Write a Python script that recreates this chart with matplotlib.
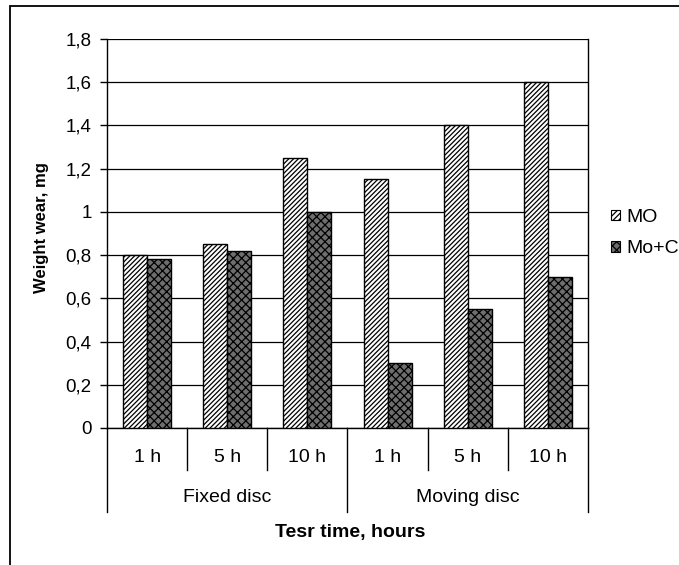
import matplotlib
matplotlib.use("Agg")
import matplotlib.pyplot as plt
from matplotlib.patches import Rectangle, Patch
from matplotlib.transforms import blended_transform_factory
import numpy as np

plt.rcParams['font.family'] = ['Liberation Sans', 'DejaVu Sans']
plt.rcParams['hatch.linewidth'] = 0.9

hours = ["1 h", "5 h", "10 h", "1 h", "5 h", "10 h"]
groups = ["Fixed disc", "Moving disc"]
mo = [0.80, 0.85, 1.25, 1.15, 1.40, 1.60]
mo_c = [0.78, 0.82, 1.00, 0.30, 0.55, 0.70]
yticks = [0, 0.2, 0.4, 0.6, 0.8, 1.0, 1.2, 1.4, 1.6, 1.8]
ytick_labels = ["0", "0,2", "0,4", "0,6", "0,8", "1", "1,2", "1,4", "1,6", "1,8"]

W, H = 679, 565
fig = plt.figure(figsize=(W / 100, H / 100), dpi=100)

# outer chart border
fig.add_artist(Rectangle((10 / W, -0.05), 1.2, 1 - 6 / H + 0.05,
                         transform=fig.transFigure, fill=False,
                         edgecolor='black', linewidth=1.3))

ax = fig.add_axes([107 / W, 137 / H, (588 - 107) / W, (428 - 39) / H])
x = np.arange(len(hours))
bw = 0.3
ax.bar(x - bw / 2, mo, bw, facecolor='white', edgecolor='black',
       hatch='///////', linewidth=1.0, zorder=3, label='MO')
ax.bar(x + bw / 2, mo_c, bw, facecolor='#6e6e6e', edgecolor='black',
       hatch='xxxx', linewidth=1.0, zorder=3, label='Mo+C')

ax.set_xlim(-0.5, len(hours) - 0.5)
ax.set_ylim(0, 1.8)
ax.set_yticks(yticks)
ax.set_yticklabels(ytick_labels, fontsize=13.5)
ax.yaxis.grid(True, color='black', linewidth=0.9)
ax.set_axisbelow(True)
ax.tick_params(axis='y', direction='out', length=5, width=1, pad=6)
ax.set_xticks([])
ax.spines['top'].set_visible(False)
for s in ['left', 'right', 'bottom']:
    ax.spines[s].set_linewidth(1.0)

# category axis with two levels
trans = blended_transform_factory(ax.transData, ax.transAxes)
ah = (428 - 39)
for i in range(len(hours) + 1):
    xb = i - 0.5
    depth = 84 if i % 3 == 0 else 42
    ax.plot([xb, xb], [0, -depth / ah], transform=trans, color='black',
            linewidth=1.0, clip_on=False)
for i, lab in enumerate(hours):
    ax.text(i, -30 / ah, lab, transform=trans, ha='center', va='center',
            fontsize=14)
for g, lab in enumerate(groups):
    ax.text(g * 3 + 1, -70 / ah, lab, transform=trans, ha='center',
            va='center', fontsize=14)

fig.text(350 / W, 1 - 532 / H, "Tesr time, hours", ha='center', va='center',
         fontsize=14, fontweight='bold')
fig.text(42 / W, 1 - 228 / H, "Weight wear, mg", ha='center', va='center',
         rotation=90, fontsize=12, fontweight='bold')

handles = [Patch(facecolor='white', edgecolor='black', hatch='//////', linewidth=0.8),
           Patch(facecolor='#6e6e6e', edgecolor='black', hatch='xxxx', linewidth=0.8)]
fig.legend(handles, ['MO', 'Mo+C'], loc='center left',
           bbox_to_anchor=(611 / W, 1 - 233 / H), frameon=False, fontsize=14,
           handlelength=0.45, handleheight=0.45, handletextpad=0.35,
           labelspacing=0.75, borderpad=0, borderaxespad=0)

fig.savefig("out.png", dpi=100)
